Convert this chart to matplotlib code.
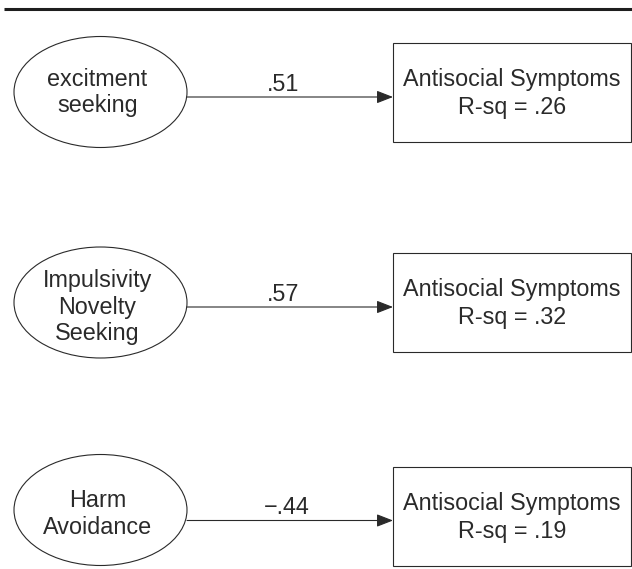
import matplotlib
matplotlib.use("Agg")
import matplotlib.pyplot as plt
from matplotlib.patches import Ellipse, Rectangle, FancyArrowPatch

plt.rcParams['font.family'] = ['Liberation Sans', 'DejaVu Sans']

# data
predictors = ["excitment\nseeking", "Impulsivity\nNovelty\nSeeking", "Harm\nAvoidance"]
path_coefs = [".51", ".57", "\u2212.44"]
outcome = "Antisocial Symptoms"
r_squared = [".26", ".32", ".19"]

# layout (pixels, y downwards)
W, H = 632, 569
ell_cx, ell_w, ell_h = 100.5, 173, 111
ell_cy = [92, 302.5, 510]
ell_text_y = [92.5, 307, 514]
arrow_y = [97, 307, 520.5]
box_x0, box_x1, box_h = 393, 631, 99
box_top = [43, 253, 467]
coef_x = 283

ink = "#2a2a2a"
fs = 16.8

fig = plt.figure(figsize=(W / 100, H / 100), dpi=100)
ax = fig.add_axes([0, 0, 1, 1])
ax.set_xlim(0, W)
ax.set_ylim(H, 0)
ax.axis('off')

# heavy rule at the top
ax.plot([4, W], [9, 9], color="#1e1e1e", lw=2.2, solid_capstyle='butt')

for i in range(len(predictors)):
    ax.add_patch(Ellipse((ell_cx, ell_cy[i]), ell_w, ell_h, fill=False,
                         ec=ink, lw=0.8))
    ax.text(ell_cx - 3, ell_text_y[i], predictors[i], ha='center', va='center',
            fontsize=fs, color=ink, linespacing=1.2)

    ax.add_patch(Rectangle((box_x0, box_top[i]), box_x1 - box_x0, box_h,
                           fill=False, ec=ink, lw=0.8))
    ax.text((box_x0 + box_x1) / 2, box_top[i] + box_h / 2 + 1,
            outcome + "\nR-sq = " + r_squared[i], ha='center', va='center',
            fontsize=fs, color=ink, linespacing=1.33)

    ax.add_patch(FancyArrowPatch((ell_cx + ell_w / 2, arrow_y[i]), (box_x0, arrow_y[i]),
                                 arrowstyle='-|>,head_length=10,head_width=3.9',
                                 mutation_scale=1, shrinkA=0, shrinkB=0,
                                 color=ink, lw=0.8))
    ax.text(coef_x + (4 if i == 2 else 0), arrow_y[i] - 6, path_coefs[i],
            ha='center', va='baseline', fontsize=fs, color=ink)

fig.savefig("out.png", dpi=100)
